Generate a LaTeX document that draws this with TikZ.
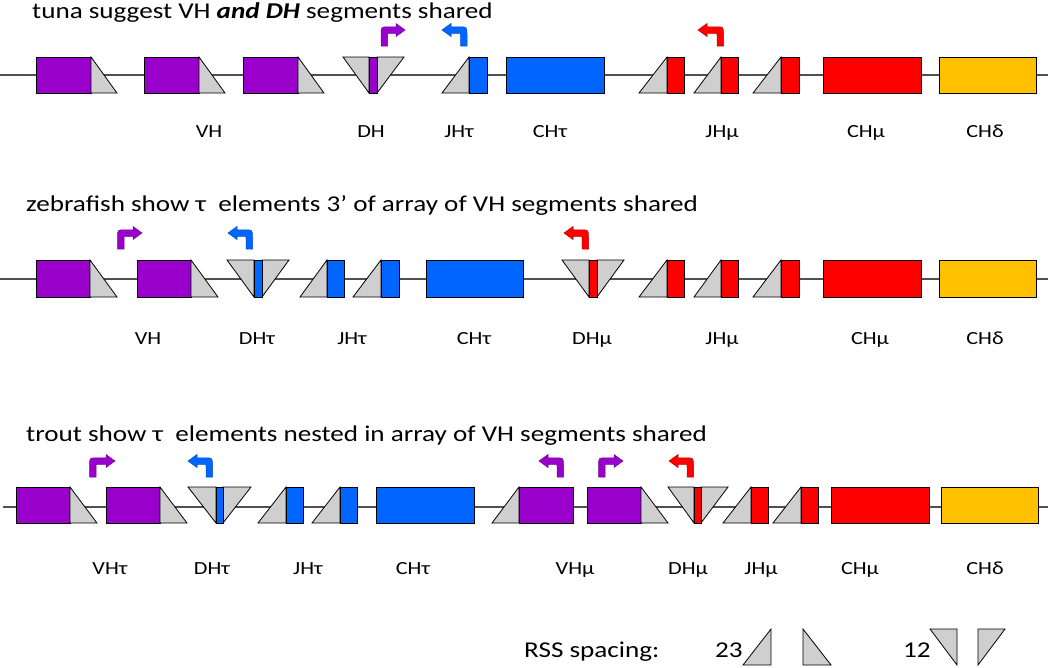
\documentclass[tikz,border=0pt]{standalone}
\usepackage{fontspec}
\setmainfont[FakeStretch=1.2]{Carlito}
\definecolor{vpurple}{HTML}{9900CC}
\definecolor{tblue}{HTML}{0066FF}
\definecolor{mred}{HTML}{FF0000}
\definecolor{dgold}{HTML}{FFC000}
\definecolor{rssgray}{HTML}{CFCFCF}
\definecolor{linegray}{HTML}{505050}
\newcommand\rowT{57}
\newcommand\rowB{93}
\newcommand\Vseg[3]{\draw[seg,fill=vpurple] (#1,\rowT) rectangle (#2,\rowB); \draw[rss] (#2,\rowT) -- (#3,\rowB) -- (#2,\rowB) -- cycle;}
\newcommand\Vsegl[3]{\draw[rss] (#1,\rowB) -- (#2,\rowT) -- (#2,\rowB) -- cycle; \draw[seg,fill=vpurple] (#2,\rowT) rectangle (#3,\rowB);}
\newcommand\Jseg[4]{\draw[rss] (#1,\rowB) -- (#2,\rowT) -- (#2,\rowB) -- cycle; \draw[seg,fill=#4] (#2,\rowT) rectangle (#3,\rowB);}
\newcommand\Dseg[5]{\draw[rss] (#1,\rowT) -- (#2,\rowT) -- (#2,\rowB) -- cycle; \draw[rss] (#3,\rowT) -- (#4,\rowT) -- (#3,\rowB) -- cycle; \draw[seg,fill=#5] (#2,\rowT) rectangle (#3,\rowB);}
\newcommand\Cseg[3]{\draw[seg,fill=#3] (#1,\rowT) rectangle (#2,\rowB);}
% bent arrow pointing right: colour, stem left x, stem bottom y, tip x
\newcommand\ArrR[4]{\filldraw[fill=#1, draw=#1!75!black, line width=0.5pt]
 (#2,#3) -- (#2,#3-16-3.25+8) .. controls (#2,#3-16-3.25) .. (#2+8,#3-16-3.25)
 -- (#4-9,#3-16-3.25) -- (#4-9,#3-16-6.5) -- (#4,#3-16) -- (#4-9,#3-16+6.5)
 -- (#4-9,#3-16+3.25) -- (#2+6.5+2,#3-16+3.25) .. controls (#2+6.5,#3-16+3.25) .. (#2+6.5,#3-16+3.25+2)
 -- (#2+6.5,#3) -- cycle;}
% bent arrow pointing left: colour, stem right x, stem bottom y, tip x
\newcommand\ArrL[4]{\filldraw[fill=#1, draw=#1!75!black, line width=0.5pt]
 (#2,#3) -- (#2,#3-16-3.25+8) .. controls (#2,#3-16-3.25) .. (#2-8,#3-16-3.25)
 -- (#4+9,#3-16-3.25) -- (#4+9,#3-16-6.5) -- (#4,#3-16) -- (#4+9,#3-16+6.5)
 -- (#4+9,#3-16+3.25) -- (#2-6.5-2,#3-16+3.25) .. controls (#2-6.5,#3-16+3.25) .. (#2-6.5,#3-16+3.25+2)
 -- (#2-6.5,#3) -- cycle;}
\begin{document}
\begin{tikzpicture}[x=1pt,y=-1pt,
  seg/.style={draw=black, line width=0.8pt},
  rss/.style={seg, fill=rssgray},
  chrom/.style={draw=linegray, line width=1.2pt},
  ttl/.style={anchor=base west, inner sep=0pt, font=\fontsize{22.6}{26}\selectfont},
  lab/.style={anchor=base, inner sep=0pt, font=\fontsize{18.5}{21}\selectfont}]
\useasboundingbox (0,0) rectangle (1050,667);

% ---------------- row 1 : tuna
\node[ttl] (t1) at (32,18.5) {tuna suggest VH \textbf{\textit{and DH}} segments shared};
\renewcommand\rowT{57}\renewcommand\rowB{93}
\draw[chrom] (0,75) -- (1048,75);
\Vseg{36}{91}{117}
\Vseg{144}{199}{225}
\Vseg{243}{298}{324}
\Dseg{343}{369}{377}{404}{vpurple}
\Jseg{442}{469}{487}{tblue}
\Cseg{506}{604}{tblue}
\Jseg{639}{667}{684}{mred}
\Jseg{694}{721}{738}{mred}
\Jseg{753}{781}{799}{mred}
\Cseg{823}{921}{mred}
\Cseg{939}{1036}{dgold}
\ArrR{vpurple}{381}{46}{405}
\ArrL{tblue}{467}{46}{442}
\ArrL{mred}{723.5}{46}{698}
\node[lab] (a1) at (209,137) {VH};
\node[lab] (a2) at (371,137) {DH};
\node[lab] (a3) at (459,137) {JHτ};
\node[lab] (a4) at (550,137) {CHτ};
\node[lab] (a5) at (722,137) {JHμ};
\node[lab] (a6) at (866,137) {CHμ};
\node[lab] (a7) at (985,137) {CHδ};

% ---------------- row 2 : zebrafish
\node[ttl] (t2) at (26,211.5) {zebrafish show τ\ \ elements 3’ of array of VH segments shared};
\renewcommand\rowT{260}\renewcommand\rowB{297}
\draw[chrom] (0,279) -- (1048,279);
\Vseg{36}{90}{117}
\Vseg{137}{191}{218}
\Dseg{227}{254}{262}{289}{tblue}
\Jseg{300}{327}{344}{tblue}
\Jseg{353}{381}{399}{tblue}
\Cseg{426}{523}{tblue}
\Dseg{562}{589}{597}{624}{mred}
\Jseg{639}{667}{684}{mred}
\Jseg{694}{721}{738}{mred}
\Jseg{753}{781}{799}{mred}
\Cseg{823}{921}{mred}
\Cseg{939}{1036}{dgold}
\ArrR{vpurple}{117.5}{249}{142}
\ArrL{tblue}{252.5}{249}{228}
\ArrL{mred}{588.5}{249}{564}
\node[lab] (b1) at (148,344) {VH};
\node[lab] (b2) at (257,344) {DHτ};
\node[lab] (b3) at (352,344) {JHτ};
\node[lab] (b4) at (474,344) {CHτ};
\node[lab] (b5) at (592,344) {DHμ};
\node[lab] (b6) at (722,344) {JHμ};
\node[lab] (b7) at (870,344) {CHμ};
\node[lab] (b8) at (985,344) {CHδ};

% ---------------- row 3 : trout
\node[ttl] (t3) at (26,441) {trout show τ\ \ elements nested in array of VH segments shared};
\renewcommand\rowT{487}\renewcommand\rowB{523}
\draw[chrom] (3,507) -- (1048,507);
\Vseg{16}{70}{97}
\Vseg{106}{160}{187}
\Dseg{188}{216}{223}{251}{tblue}
\Jseg{258}{286}{303}{tblue}
\Jseg{312}{340}{357}{tblue}
\Cseg{376}{474}{tblue}
\Vsegl{492}{519}{573}
\Vseg{587}{641}{668}
\Dseg{668}{694}{701}{728}{mred}
\Jseg{723}{751}{768}{mred}
\Jseg{773}{801}{818}{mred}
\Cseg{831}{929}{mred}
\Cseg{941}{1038}{dgold}
\ArrR{vpurple}{89.5}{477}{115}
\ArrL{tblue}{212.5}{477}{188}
\ArrL{vpurple}{563.5}{477}{539}
\ArrR{vpurple}{598.5}{477}{623}
\ArrL{mred}{693.5}{477}{669}
\node[lab] (c1) at (110,574) {VHτ};
\node[lab] (c2) at (212,574) {DHτ};
\node[lab] (c3) at (308,574) {JHτ};
\node[lab] (c4) at (413,574) {CHτ};
\node[lab] (c5) at (575,574) {VHμ};
\node[lab] (c6) at (688,574) {DHμ};
\node[lab] (c7) at (761,574) {JHμ};
\node[lab] (c8) at (860,574) {CHμ};
\node[lab] (c9) at (985,574) {CHδ};

% ---------------- legend
\node[ttl] (rss) at (524,657) {RSS spacing:};
\node[ttl] (n23) at (715,657) {23};
\node[ttl] (n12) at (903,657) {12};
\draw[rss] (743,665) -- (771,629) -- (771,665) -- cycle;
\draw[rss] (803,629) -- (803,665) -- (831,665) -- cycle;
\draw[rss] (930,629) -- (957,629) -- (957,665) -- cycle;
\draw[rss] (978,629) -- (1005,629) -- (978,665) -- cycle;
\end{tikzpicture}
\end{document}
